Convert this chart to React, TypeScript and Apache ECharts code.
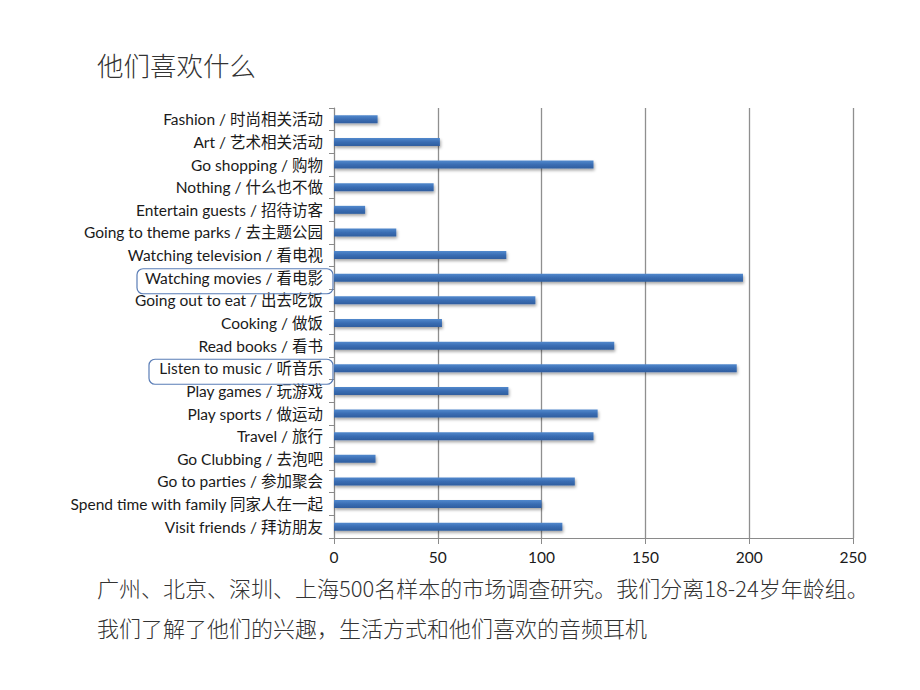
import React, { useEffect, useRef } from "react";
import * as echarts from "echarts";

const categories = [
  "Fashion / 时尚相关活动",
  "Art / 艺术相关活动",
  "Go shopping / 购物",
  "Nothing / 什么也不做",
  "Entertain guests / 招待访客",
  "Going to theme parks / 去主题公园",
  "Watching television / 看电视",
  "Watching movies / 看电影",
  "Going out to eat / 出去吃饭",
  "Cooking / 做饭",
  "Read books / 看书",
  "Listen to music / 听音乐",
  "Play games / 玩游戏",
  "Play sports / 做运动",
  "Travel / 旅行",
  "Go Clubbing / 去泡吧",
  "Go to parties / 参加聚会",
  "Spend time with family 同家人在一起",
  "Visit friends / 拜访朋友",
];

const values = [21, 51, 125, 48, 15, 30, 83, 197, 97, 52, 135, 194, 84, 127, 125, 20, 116, 100, 110];

const highlighted = ["Watching movies / 看电影", "Listen to music / 听音乐"];

const titleText = "他们喜欢什么";
const noteLines = [
  "广州、北京、深圳、上海500名样本的市场调查研究。我们分离18-24岁年龄组。",
  "我们了解了他们的兴趣，生活方式和他们喜欢的音频耳机",
];

const FONT = "Lato, 'Noto Sans CJK SC', sans-serif";
const CJK = "'Noto Sans CJK SC', sans-serif";

export default function App() {
  const ref = useRef<HTMLDivElement>(null);
  useEffect(() => {
    if (!ref.current) return;
    const chart = echarts.init(ref.current, null, { renderer: "svg" });
    chart.setOption({
      animation: false,
      backgroundColor: "#ffffff",
      grid: { left: 334, right: 67, top: 108, bottom: 152, containLabel: false },
      xAxis: {
        type: "value",
        min: 0,
        max: 250,
        interval: 50,
        axisLine: { show: true, lineStyle: { color: "#8a8a8a", width: 1 } },
        axisTick: { show: true, length: 6, lineStyle: { color: "#8a8a8a" } },
        axisLabel: { color: "#1a1a1a", fontSize: 15.5, fontFamily: FONT, margin: 11 },
        splitLine: { show: true, lineStyle: { color: "#8f8f8f", width: 1.3 } },
      },
      yAxis: {
        type: "category",
        inverse: true,
        data: categories,
        axisLine: { show: true, lineStyle: { color: "#8a8a8a", width: 1 } },
        axisTick: { show: true, length: 5, inside: false, lineStyle: { color: "#8a8a8a" } },
        axisLabel: { color: "#1a1a1a", fontSize: 15.5, fontFamily: FONT, margin: 11 },
        splitLine: { show: false },
      },
      series: [
        {
          type: "bar",
          data: values,
          barWidth: 8,
          itemStyle: {
            color: new echarts.graphic.LinearGradient(0, 0, 0, 1, [
              { offset: 0, color: "#5289cd" },
              { offset: 0.5, color: "#3a6db3" },
              { offset: 1, color: "#2f5e9f" },
            ]),
            shadowColor: "rgba(0,0,0,0.35)",
            shadowBlur: 3,
            shadowOffsetY: 2,
            shadowOffsetX: 1,
          },
        },
      ],
    });

    const boxes = [
      { name: highlighted[0], left: 137, width: 196 },
      { name: highlighted[1], left: 149, width: 184 },
    ];
    const rects = boxes.map((b) => {
      const cy = chart.convertToPixel({ yAxisIndex: 0 }, b.name) as number;
      return {
        type: "rect",
        shape: { x: b.left, y: cy - 9, width: b.width, height: 25, r: 6 },
        style: { fill: "none", stroke: "#5a7db6", lineWidth: 1.2 },
        z: 10,
      };
    });
    chart.setOption({
      graphic: [
        {
          type: "text",
          left: 97,
          top: 51,
          style: { text: titleText, fill: "#333", fontSize: 26.5, fontFamily: CJK, fontWeight: 300 },
        },
        {
          type: "text",
          left: 97,
          top: 576,
          style: { text: noteLines[0], fill: "#333", fontSize: 22, fontFamily: CJK, fontWeight: 300 },
        },
        {
          type: "text",
          left: 97,
          top: 616,
          style: { text: noteLines[1], fill: "#333", fontSize: 22, fontFamily: CJK, fontWeight: 300 },
        },
        ...rects,
      ],
    });
    return () => chart.dispose();
  }, []);
  return (
    <div
      ref={ref}
      style={{ position: "absolute", left: 0, top: 0, width: 920, height: 690 }}
    />
  );
}
